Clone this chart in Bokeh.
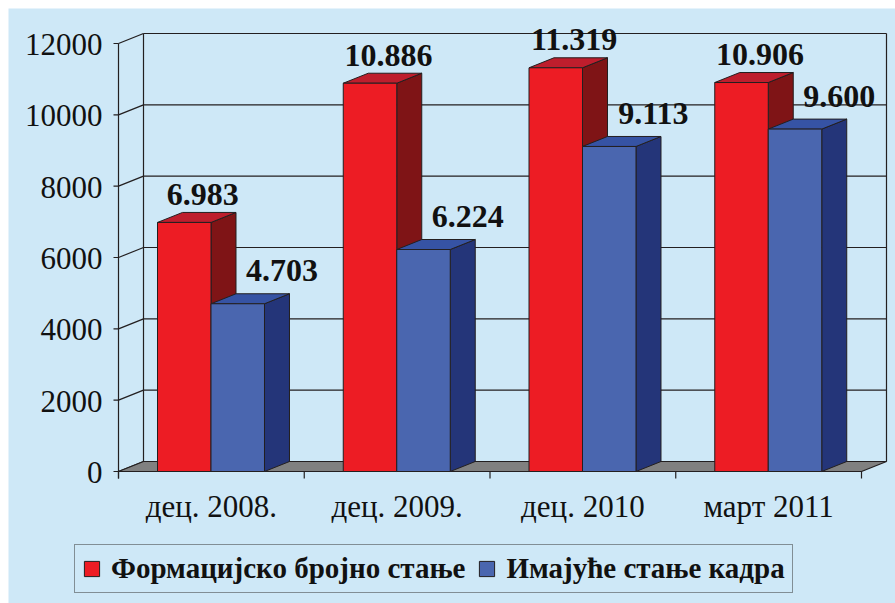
from bokeh.plotting import figure
from bokeh.models import Range1d, Legend, LegendItem
from bokeh.core.properties import value
from bokeh.embed import file_html
from bokeh.resources import INLINE

# ---- data ----
categories = ["дец. 2008.", "дец. 2009.", "дец. 2010", "март 2011"]
formation = [6983, 10886, 11319, 10906]
actual = [4703, 6224, 9113, 9600]
formation_labels = ["6.983", "10.886", "11.319", "10.906"]
actual_labels = ["4.703", "6.224", "9.113", "9.600"]
series_names = ["Формацијско бројно стање", "Имајуће стање кадра"]
y_ticks = [0, 2000, 4000, 6000, 8000, 10000, 12000]
y_tick_labels = ["0", "2000", "4000", "6000", "8000", "10000", "12000"]

# ---- style / geometry ----
BG = "#cee8f7"
EDGE = "#231f20"
TXT = "#111111"
FONT = "Liberation Serif"
W, H = 887, 595
PXX = 1 / 185.75            # x data units per pixel
PXY = 12000 / 428.0         # y data units per pixel
DX = 25 * PXX               # depth offset x
DY = 10 * PXY               # depth offset y
ORIGIN_X = 110              # px from figure left to data x = 0
ORIGIN_Y = 132              # px from figure bottom to data y = 0
x0 = -ORIGIN_X * PXX
x1 = x0 + W * PXX
y0 = -ORIGIN_Y * PXY
y1 = y0 + H * PXY
BASE_FIX = 14               # px correction for text baseline rendering

n = len(categories)
ymax = y_ticks[-1]
nt = len(y_ticks)

p = figure(width=W, height=H, output_backend="svg", toolbar_location=None,
           x_range=Range1d(x0, x1), y_range=Range1d(y0, y1),
           x_axis_location=None, y_axis_location=None,
           min_border=0, margin=(8, 0, 0, 8),
           background_fill_color=BG, border_fill_color=BG, outline_line_color=None)
p.grid.visible = False

LW = 1.2
# walls: back wall gridlines, left wall slants, wall edges
p.segment(x0=[DX] * nt, y0=[t + DY for t in y_ticks],
          x1=[n + DX] * nt, y1=[t + DY for t in y_ticks],
          line_color=EDGE, line_width=LW)
p.segment(x0=[0] * nt, y0=y_ticks, x1=[DX] * nt, y1=[t + DY for t in y_ticks],
          line_color=EDGE, line_width=LW)
p.segment(x0=[DX, n + DX], y0=[DY, DY], x1=[DX, n + DX], y1=[ymax + DY, ymax + DY],
          line_color=EDGE, line_width=LW)

# y axis (front edge)
p.segment(x0=[0], y0=[-7 * PXY], x1=[0], y1=[ymax], line_color=EDGE, line_width=LW)
p.segment(x0=[-5 * PXX] * nt, y0=y_ticks, x1=[0] * nt, y1=y_ticks,
          line_color=EDGE, line_width=LW)
p.text(x=[-16 * PXX] * nt, y=[t + (BASE_FIX - 15) * PXY for t in y_ticks],
       text=y_tick_labels, text_font=value(FONT), text_font_size="31px",
       text_align="right", text_baseline="alphabetic", text_color=TXT)

# floor
p.patch(x=[0, n, n + DX, DX], y=[0, 0, DY, DY], fill_color="#808080",
        line_color=EDGE, line_width=LW)
# category boundary ticks
p.segment(x0=list(range(n + 1)), y0=[0] * (n + 1), x1=list(range(n + 1)),
          y1=[-7 * PXY] * (n + 1), line_color=EDGE, line_width=LW)

BW = 0.288
OFF = 0.21
colors = [("#ed1c24", "#7f1416", "#be1e2d"), ("#4a66af", "#243579", "#3653a4")]
fronts = []
for s, vals in enumerate([formation, actual]):
    fc, sc, tc = colors[s]
    lefts = [i + OFF + s * BW for i in range(n)]
    rights = [l + BW for l in lefts]
    side_xs = [[r, r + DX, r + DX, r] for r in rights]
    side_ys = [[0, DY, v + DY, v] for v in vals]
    top_xs = [[l, l + DX, r + DX, r] for l, r in zip(lefts, rights)]
    top_ys = [[v, v + DY, v + DY, v] for v in vals]
    p.patches(xs=side_xs, ys=side_ys, fill_color=sc, line_color=EDGE, line_width=1)
    p.patches(xs=top_xs, ys=top_ys, fill_color=tc, line_color=EDGE, line_width=1)
    fronts.append(p.quad(left=lefts, right=rights, bottom=[0] * n, top=vals,
                         fill_color=fc, line_color=EDGE, line_width=1))

# value labels
p.text(x=[i + OFF + 0.243 for i in range(n)],
       y=[v + DY + (4 + BASE_FIX) * PXY for v in formation], text=formation_labels,
       text_font=value(FONT), text_font_style="bold", text_font_size="32px",
       text_align="center", text_baseline="alphabetic", text_color=TXT)
p.text(x=[i + OFF + BW + 0.382 for i in range(n)],
       y=[v + DY + (9 + BASE_FIX) * PXY for v in actual], text=actual_labels,
       text_font=value(FONT), text_font_style="bold", text_font_size="32px",
       text_align="center", text_baseline="alphabetic", text_color=TXT)

# category labels
p.text(x=[i + 0.5 for i in range(n)], y=[-(49 - BASE_FIX) * PXY] * n, text=categories,
       text_font=value(FONT), text_font_size="31px", text_align="center",
       text_baseline="alphabetic", text_color=TXT)

legend = Legend(items=[LegendItem(label=series_names[0], renderers=[fronts[0]]),
                       LegendItem(label=series_names[1], renderers=[fronts[1]])],
                orientation="horizontal", location=(66, 10),
                glyph_width=19, glyph_height=19, label_standoff=10, spacing=12,
                padding=7, margin=0, border_line_color="#333333", border_line_width=1.5,
                background_fill_color=BG, background_fill_alpha=1.0,
                label_text_font=FONT, label_text_font_style="bold", label_height=20,
                label_text_font_size="29px", label_text_color=TXT)
p.add_layout(legend, "center")

open("out.html", "w").write(file_html(p, INLINE))
